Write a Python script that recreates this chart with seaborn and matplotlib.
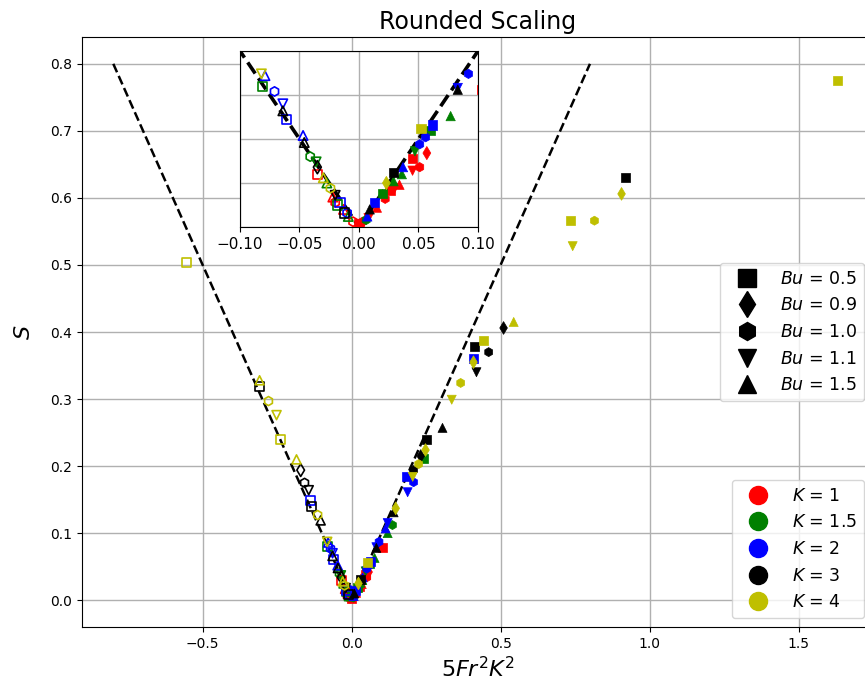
import numpy as np
import pandas as pd
import matplotlib
matplotlib.use("Agg")
import matplotlib.pyplot as plt
from matplotlib.lines import Line2D
import seaborn as sns

# ---- data: x = 5 Fr^2 K^2, S, Bu, one block per K ----
k1_x = [-0.035, -0.022, -0.020, -0.013, -0.005, 0.000, 0.003, 0.008, 0.015, 0.022,
        0.026, 0.030, 0.034, 0.045, 0.045, 0.051, 0.057, 0.103]
k1_s = [0.030, 0.017, 0.014, 0.010, 0.003, 0.002, 0.003, 0.005, 0.011, 0.016,
        0.021, 0.022, 0.024, 0.032, 0.039, 0.034, 0.042, 0.078]
k1_bu = [0.5, 1.5, 1.0, 1.5, 1.0, 0.5, 1.0, 1.1, 1.5, 1.0,
         0.5, 1.1, 1.5, 1.1, 0.5, 1.0, 0.9, 0.5]

k15_x = [-0.081, -0.041, -0.036, -0.027, -0.018, -0.009, 0.006, 0.020, 0.029, 0.036,
         0.047, 0.060, 0.077, 0.121, 0.137, 0.242]
k15_s = [0.080, 0.040, 0.037, 0.025, 0.0125, 0.006, 0.004, 0.019, 0.026, 0.030,
         0.043, 0.055, 0.063, 0.100, 0.112, 0.212]
k15_bu = [0.5, 1.0, 1.1, 1.5, 0.5, 1.5, 1.0, 0.5, 1.5, 1.5,
          1.1, 0.5, 1.5, 1.5, 1.0, 0.5]

k2_x = [-0.138, -0.079, -0.071, -0.064, -0.061, -0.047, -0.016, -0.010, 0.007, 0.013,
        0.037, 0.051, 0.056, 0.062, 0.083, 0.092, 0.114, 0.121, 0.185, 0.208,
        0.188, 0.409]
k2_s = [0.149, 0.086, 0.077, 0.070, 0.061, 0.052, 0.014, 0.008, 0.006, 0.014,
        0.034, 0.047, 0.051, 0.058, 0.079, 0.087, 0.107, 0.115, 0.184, 0.176,
        0.161, 0.360]
k2_bu = [0.5, 1.5, 1.0, 1.1, 0.5, 1.5, 0.5, 1.0, 1.5, 0.5,
         1.5, 1.0, 1.0, 0.5, 1.1, 1.0, 1.5, 1.1, 0.5, 1.0,
         1.1, 0.5]

k3_x = [-0.309, -0.171, -0.158, -0.144, -0.134, -0.104, -0.064, -0.046, -0.035, -0.020,
        -0.012, 0.009, 0.029, 0.083, 0.141, 0.208, 0.232, 0.250, 0.305, 0.413,
        0.419, 0.460, 0.510, 0.919]
k3_s = [0.319, 0.194, 0.175, 0.164, 0.140, 0.119, 0.066, 0.048, 0.034, 0.018,
        0.008, 0.010, 0.031, 0.078, 0.131, 0.194, 0.215, 0.239, 0.257, 0.378,
        0.340, 0.370, 0.406, 0.631]
k3_bu = [0.5, 0.9, 1.0, 1.1, 0.5, 1.5, 1.5, 1.5, 0.9, 1.1,
         0.5, 1.5, 0.5, 1.5, 1.5, 1.0, 0.9, 0.5, 1.5, 0.5,
         1.1, 1.0, 0.9, 0.5]

k4_x = [-0.554, -0.309, -0.279, -0.252, -0.238, -0.185, -0.114, -0.082, -0.030, -0.024,
        0.023, 0.052, 0.148, 0.205, 0.225, 0.248, 0.336, 0.366, 0.409, 0.443,
        0.544, 0.735, 0.742, 0.815, 0.906, 1.631]
k4_s = [0.503, 0.328, 0.297, 0.276, 0.239, 0.210, 0.127, 0.087, 0.028, 0.022,
        0.025, 0.056, 0.137, 0.184, 0.203, 0.224, 0.299, 0.324, 0.355, 0.387,
        0.415, 0.567, 0.528, 0.566, 0.606, 0.775]
k4_bu = [0.5, 1.5, 1.0, 1.1, 0.5, 1.5, 1.0, 1.1, 1.5, 1.0,
         0.9, 0.5, 0.9, 1.1, 1.0, 0.9, 1.1, 1.0, 0.9, 0.5,
         1.5, 0.5, 1.1, 1.0, 0.9, 0.5]

K_LEVELS = ["1", "1.5", "2", "3", "4"]
K_COLORS = ["r", "g", "b", "k", "y"]
BU_LEVELS = [0.5, 0.9, 1.0, 1.1, 1.5]
BU_MARKERS = ["s", "d", "h", "v", "^"]

# reference line S = |x|
line_x = np.array([-0.8, 0.0, 0.8])

frames = []
for k, xs, ss, bus in zip(K_LEVELS,
                          [k1_x, k15_x, k2_x, k3_x, k4_x],
                          [k1_s, k15_s, k2_s, k3_s, k4_s],
                          [k1_bu, k15_bu, k2_bu, k3_bu, k4_bu]):
    frames.append(pd.DataFrame({"x": xs, "S": ss, "Bu": bus, "K": k}))
df = pd.concat(frames, ignore_index=True)
df["open"] = df["x"] < 0

marker_map = dict(zip(BU_LEVELS, BU_MARKERS))


def draw_points(ax, size):
    for k, c in zip(K_LEVELS, K_COLORS):
        for is_open in (True, False):
            sub = df[(df["K"] == k) & (df["open"] == is_open)]
            if sub.empty:
                continue
            kw = dict(facecolor="none", edgecolor=c, linewidth=1.2) if is_open \
                else dict(edgecolor=c, linewidth=0.5)
            sns.scatterplot(data=sub, x="x", y="S", style="Bu", style_order=BU_LEVELS,
                            markers=marker_map, color=c, s=size, legend=False,
                            ax=ax, zorder=3, **kw)


fig = plt.figure(figsize=(8.65, 6.88), dpi=100)
ax = fig.add_axes([82 / 865, 61 / 688, 791 / 865, 590 / 688])

ax.plot(line_x, np.abs(line_x), "k--", lw=1.8, zorder=2)
draw_points(ax, 42)
ax.set_xlim(-0.905, 1.75)
ax.set_ylim(-0.04, 0.84)
ax.set_xticks([-0.5, 0.0, 0.5, 1.0, 1.5])
ax.set_yticks(np.arange(0, 0.81, 0.1))
ax.grid(True, color="#b0b0b0", lw=1.0)
ax.set_axisbelow(True)
ax.tick_params(labelsize=10)
ax.set_title("Rounded Scaling", fontsize=17)
ax.set_xlabel(r"$5Fr^2K^2$", fontsize=16)
ax.set_ylabel(r"$S$", fontsize=16, labelpad=12)

bu_handles = [Line2D([], [], ls="none", marker=m, color="k", markersize=13) for m in BU_MARKERS]
bu_labels = [r"$Bu$ = " + f"{b}" for b in BU_LEVELS]
leg1 = ax.legend(bu_handles, bu_labels, loc="center right", fontsize=12.5, handlelength=2.3)
ax.add_artist(leg1)
k_handles = [Line2D([], [], ls="none", marker="o", color=c, markersize=13) for c in K_COLORS]
k_labels = [r"$K$ = " + k for k in K_LEVELS]
ax.legend(k_handles, k_labels, loc="lower right", fontsize=12.5, handlelength=2.3)

# inset zoom near the origin
axin = fig.add_axes([240 / 865, (688 - 227) / 688, 238 / 865, 176 / 688])
axin.plot(line_x, np.abs(line_x), "k--", lw=2.6, zorder=2)
draw_points(axin, 45)
axin.set_xlim(-0.1, 0.1)
axin.set_ylim(0, 0.1)
axin.set_xticks([-0.1, -0.05, 0.0, 0.05, 0.1])
axin.set_yticks([0, 0.025, 0.05, 0.075, 0.1])
axin.tick_params(axis="y", labelleft=False, length=0)
axin.tick_params(axis="x", labelsize=11)
axin.grid(True, color="#b0b0b0", lw=1.0)
axin.set_axisbelow(True)
axin.set_xlabel("")
axin.set_ylabel("")

fig.savefig("out.png", dpi=100)
